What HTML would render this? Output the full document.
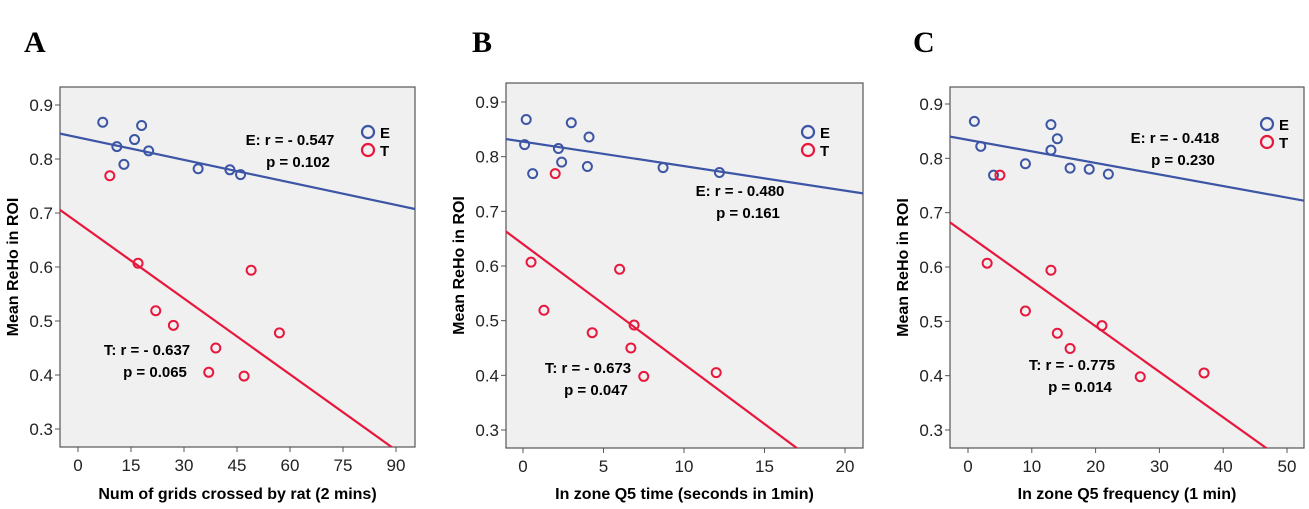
<!DOCTYPE html>
<html><head><meta charset="utf-8"><style>
body{margin:0;background:#fff;width:1309px;height:504px;overflow:hidden;font-family:"Liberation Sans",Arial,sans-serif}
svg text{font-family:"Liberation Sans",Arial,sans-serif}
</style></head><body>
<svg id="fig" width="1309" height="504" xmlns="http://www.w3.org/2000/svg"></svg>
<script>
// Panel A data
const aEx=[7,11,13,16,18,20,34,43,46];
const aEy=[0.868,0.823,0.790,0.836,0.862,0.815,0.782,0.780,0.771];
const aTx=[9,17,22,27,37,39,47,49,57];
const aTy=[0.769,0.607,0.519,0.492,0.405,0.450,0.398,0.594,0.478];
const aXticks=[0,15,30,45,60,75,90];
// Panel B data
const bEx=[0.2,0.1,0.6,2.2,2.4,3,4,4.1,8.7,12.2];
const bEy=[0.868,0.822,0.769,0.815,0.790,0.862,0.782,0.836,0.780,0.771];
const bTx=[2.0,0.5,1.3,4.3,6,6.7,6.9,7.5,12.0];
const bTy=[0.769,0.607,0.519,0.478,0.594,0.450,0.492,0.398,0.405];
const bXticks=[0,5,10,15,20];
// Panel C data
const cEx=[1,2,4,9,13,13,14,16,19,22];
const cEy=[0.868,0.822,0.769,0.790,0.862,0.815,0.836,0.782,0.780,0.771];
const cTx=[5,3,9,13,14,16,21,27,37];
const cTy=[0.769,0.607,0.519,0.594,0.478,0.450,0.492,0.398,0.405];
const cXticks=[0,10,20,30,40,50];
const yTicks=[0.3,0.4,0.5,0.6,0.7,0.8,0.9];
// fit lines: [intercept, slope]
const aFitE=[0.840,-0.00139], aFitT=[0.682,-0.00468];
const bFitE=[0.8275,-0.00448], bFitT=[0.640,-0.02194];
const cFitE=[0.834,-0.002126], cFitT=[0.6585,-0.00838];

const NS="http://www.w3.org/2000/svg";
const svg=document.getElementById('fig');
function mk(tag,attrs,parent){const e=document.createElementNS(NS,tag);for(const k in attrs)e.setAttribute(k,attrs[k]);(parent||svg).appendChild(e);return e;}
const BLUE="#3c55a5", RED="#e8173c";

const panels=[
 {id:'a',letter:'A',lx:24,px0:60,px1:415,py0:87,py1:447,x0:0,xp0:78,x1:90,xp1:396,y9:105,y3:429,
  Ex:aEx,Ey:aEy,Tx:aTx,Ty:aTy,ticks:aXticks,fe:aFitE,ft:aFitT,xt:"Num of grids crossed by rat (2 mins)",
  eTxt:[290,145,"E: r = - 0.547","p = 0.102"],tTxt:[147,355,"T: r = - 0.637","p = 0.065"],leg:[368,132]},
 {id:'b',letter:'B',lx:472,px0:506,px1:863,py0:83,py1:448,x0:0,xp0:523,x1:20,xp1:845,y9:102,y3:430,
  Ex:bEx,Ey:bEy,Tx:bTx,Ty:bTy,ticks:bXticks,fe:bFitE,ft:bFitT,xt:"In zone Q5 time (seconds in 1min)",
  eTxt:[740,196,"E: r = - 0.480","p = 0.161"],tTxt:[588,373,"T: r = - 0.673","p = 0.047"],leg:[808,132]},
 {id:'c',letter:'C',lx:913,px0:950,px1:1304,py0:87,py1:448,x0:0,xp0:968,x1:50,xp1:1287,y9:104,y3:430,
  Ex:cEx,Ey:cEy,Tx:cTx,Ty:cTy,ticks:cXticks,fe:cFitE,ft:cFitT,xt:"In zone Q5 frequency (1 min)",
  eTxt:[1175,143,"E: r = - 0.418","p = 0.230"],tTxt:[1072,370,"T: r = - 0.775","p = 0.014"],leg:[1267,124]}
];

panels.forEach(p=>{
  const sx=v=>p.xp0+(v-p.x0)*(p.xp1-p.xp0)/(p.x1-p.x0);
  const sy=v=>p.y3+(v-0.3)*(p.y9-p.y3)/0.6;
  const g=mk('g',{});
  
  
  const L=mk('text',{x:p.lx,y:52,'font-size':30,'font-weight':'bold',style:'font-family:"Liberation Serif",serif'},g);
  L.textContent=p.letter;
  
  
  const bg=mk('rect',{x:p.px0,y:p.py0,width:p.px1-p.px0,height:p.py1-p.py0,fill:'#f0f0f0',stroke:'#555','stroke-width':1.2},g);
  
  
  const cp=mk('clipPath',{id:'clip'+p.id},g);
  mk('rect',{x:p.px0,y:p.py0,width:p.px1-p.px0,height:p.py1-p.py0},cp);
  yTicks.forEach(t=>{
    const y=sy(t);
    mk('line',{x1:p.px0-5,x2:p.px0,y1:y,y2:y,stroke:'#555'},g);
    const tx=mk('text',{x:p.px0-7,y:y+6,'font-size':17,'text-anchor':'end',fill:'#222'},g);
    tx.textContent=t.toFixed(1);
    
    
  });
  p.ticks.forEach(t=>{
    const x=sx(t);
    mk('line',{x1:x,x2:x,y1:p.py1,y2:p.py1+5,stroke:'#555'},g);
    const tx=mk('text',{x:x,y:p.py1+24,'font-size':17,'text-anchor':'middle',fill:'#222'},g);
    tx.textContent=t;
    
    
  });
  const yt=mk('text',{x:0,y:0,'font-size':16,'font-weight':'bold','text-anchor':'middle',transform:`translate(${p.px0-42},${(p.py0+p.py1)/2}) rotate(-90)`},g);
  yt.textContent='Mean ReHo in ROI';
  
  
  const xt=mk('text',{x:(p.px0+p.px1)/2,y:499,'font-size':16,'font-weight':'bold','text-anchor':'middle'},g);
  xt.textContent=p.xt;
  
  
  const xa=p.x0+(p.px0-p.xp0)*(p.x1-p.x0)/(p.xp1-p.xp0);
  const xb=p.x0+(p.px1-p.xp0)*(p.x1-p.x0)/(p.xp1-p.xp0);
  [[p.fe,BLUE,'fit-line-e'],[p.ft,RED,'fit-line-t']].forEach(([f,c,n])=>{
    const ln=mk('line',{x1:sx(xa),y1:sy(f[0]+f[1]*xa),x2:sx(xb),y2:sy(f[0]+f[1]*xb),stroke:c,'stroke-width':2.2,'clip-path':`url(#clip${p.id})`},g);
    
    
  });
  p.Ex.forEach((v,i)=>{
    const c=mk('circle',{cx:sx(v),cy:sy(p.Ey[i]),r:4.5,fill:'none',stroke:BLUE,'stroke-width':2},g);
    
    
  });
  p.Tx.forEach((v,i)=>{
    const c=mk('circle',{cx:sx(v),cy:sy(p.Ty[i]),r:4.5,fill:'none',stroke:RED,'stroke-width':2},g);
    
    
  });
  [p.eTxt,p.tTxt].forEach((a,k)=>{
    const t1=mk('text',{x:a[0],y:a[1],'font-size':15,'font-weight':'bold','text-anchor':'middle'},g);
    t1.textContent=a[2];
    
    
    const t2=mk('text',{x:a[0]+8,y:a[1]+22,'font-size':15,'font-weight':'bold','text-anchor':'middle'},g);
    t2.textContent=a[3];
    
    
  });
  [['E',BLUE,0],['T',RED,18]].forEach(([lab,c,dy])=>{
    const cc=mk('circle',{cx:p.leg[0],cy:p.leg[1]+dy,r:6,fill:'none',stroke:c,'stroke-width':2.2},g);
    
    
    const tt=mk('text',{x:p.leg[0]+12,y:p.leg[1]+dy+6,'font-size':15,'font-weight':'bold'},g);
    tt.textContent=lab;
    
    
  });
});
</script>
</body></html>
